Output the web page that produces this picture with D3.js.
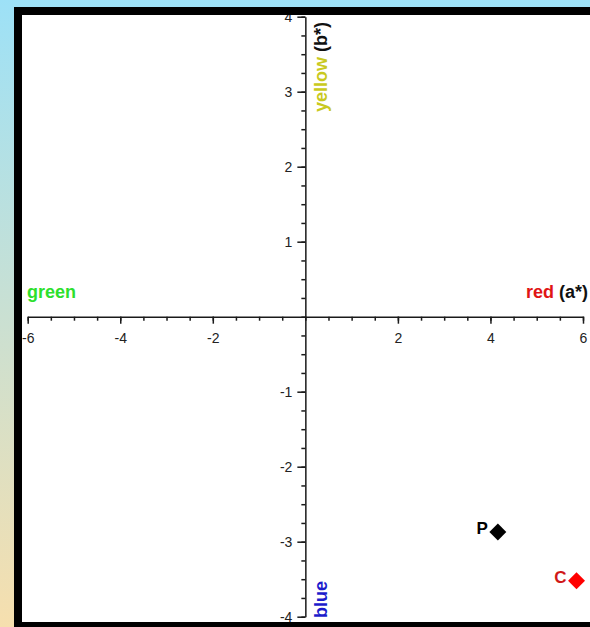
<!DOCTYPE html>
<html>
<head>
<meta charset="utf-8">
<script src="https://cdn.jsdelivr.net/npm/d3@7"></script>
<style>
html, body { margin: 0; padding: 0; overflow: hidden; background: #fff; }
svg { display: block; }
text { font-family: "Liberation Sans", Arial, sans-serif; }
.axis path, .axis line { stroke: #1a1a1a; stroke-width: 1.5; }
.axisLabel { font-size: 18px; font-weight: bold; }
.pointLabel { font-size: 17px; font-weight: bold; }
</style>
</head>
<body>
<script>
//chart values
var xTicks = [-6, -4, -2, 2, 4, 6];          //a* major ticks (0 not labelled)
var yTicks = [-4, -3, -2, -1, 1, 2, 3, 4];   //b* major ticks
var pointNames = ["P", "C"];
var aValues = [4.16, 5.86];
var bValues = [-2.87, -3.52];

//svg size
var w = 590, h = 627;

var svg = d3.select("body")
    .append("svg")
    .attr("width", w)
    .attr("height", h);

//background gradient behind the frame
var defs = svg.append("defs");

var grad = defs.append("linearGradient")
    .attr("id", "bg")
    .attr("x1", 0).attr("y1", 0)
    .attr("x2", 0).attr("y2", 1);
grad.append("stop").attr("offset", "0%").attr("stop-color", "#9de1f7");
grad.append("stop").attr("offset", "100%").attr("stop-color", "#f6dfae");

svg.append("rect")
    .attr("width", w)
    .attr("height", h)
    .style("fill", "url(#bg)");

//black frame: left, top and bottom bands (right side runs off the picture)
svg.append("rect")
    .attr("x", 14).attr("y", 7)
    .attr("width", 8).attr("height", h - 7)
    .style("fill", "#000");
svg.append("rect")
    .attr("x", 14).attr("y", 7)
    .attr("width", w - 14).attr("height", 8)
    .style("fill", "#000");
svg.append("rect")
    .attr("x", 14).attr("y", 622)
    .attr("width", w - 14).attr("height", 5)
    .style("fill", "#000");

//white plot area
svg.append("rect")
    .attr("x", 22).attr("y", 15)
    .attr("width", w - 22).attr("height", 607)
    .style("fill", "#fff");

//nested svg clips everything to the white area
var plot = svg.append("svg")
    .attr("x", 22).attr("y", 15)
    .attr("width", w - 22).attr("height", 607)
    .attr("viewBox", "22 15 " + (w - 22) + " 607")
    .style("overflow", "hidden");

//scales
var x = d3.scaleLinear()
    .domain([-6, 6])
    .range([27.7, 583]);

var y = d3.scaleLinear()
    .domain([-4, 4])
    .range([616.7, 16.7]);

var fmt = function(d){ return String(d); }; //plain hyphen minus like the original

//bigger tick text than d3's default
function styleTicks(g){
    g.attr("font-size", 14)
        .attr("font-family", "'Liberation Sans', Arial, sans-serif");
    g.selectAll("text").style("fill", "#222");
}

//minor ticks on a* (every 0.5)
plot.append("g")
    .attr("class", "axis minor")
    .attr("transform", "translate(0," + y(0) + ")")
    .call(d3.axisBottom(x)
        .tickValues(d3.range(-6, 6.01, 0.5))
        .tickSize(4)
        .tickFormat(""))
    .call(function(g){ g.select(".domain").remove(); });

//major a* axis
plot.append("g")
    .attr("class", "axis")
    .attr("transform", "translate(0," + y(0) + ")")
    .call(d3.axisBottom(x)
        .tickValues(xTicks)
        .tickSize(7)
        .tickSizeOuter(0)
        .tickPadding(9)
        .tickFormat(fmt))
    .call(styleTicks);

//minor ticks on b* (every 0.25)
plot.append("g")
    .attr("class", "axis minor")
    .attr("transform", "translate(" + x(0) + ",0)")
    .call(d3.axisLeft(y)
        .tickValues(d3.range(-4, 4.01, 0.25))
        .tickSize(4)
        .tickFormat(""))
    .call(function(g){ g.select(".domain").remove(); });

//major b* axis
plot.append("g")
    .attr("class", "axis")
    .attr("transform", "translate(" + x(0) + ",0)")
    .call(d3.axisLeft(y)
        .tickValues(yTicks)
        .tickSize(8)
        .tickSizeOuter(0)
        .tickPadding(5)
        .tickFormat(fmt))
    .call(styleTicks);

//axis direction labels
plot.append("text")
    .attr("class", "axisLabel")
    .attr("x", 27).attr("y", 298)
    .style("fill", "#2ddf2d")
    .text("green");

var redLabel = plot.append("text")
    .attr("class", "axisLabel")
    .attr("x", 588).attr("y", 298)
    .attr("text-anchor", "end");
redLabel.append("tspan").style("fill", "#e01515").text("red ");
redLabel.append("tspan").style("fill", "#111").text("(a*)");

var yellowLabel = plot.append("text")
    .attr("class", "axisLabel")
    .attr("transform", "translate(327,112) rotate(-90)");
yellowLabel.append("tspan").style("fill", "#c9c920").text("yellow ");
yellowLabel.append("tspan").style("fill", "#111").text("(b*)");

plot.append("text")
    .attr("class", "axisLabel")
    .attr("transform", "translate(327,618) rotate(-90)")
    .style("fill", "#1c1ccc")
    .text("blue");

//colour per point
var markColor = d3.scaleOrdinal().domain(pointNames).range(["#000000", "#ff0000"]);
var labelColor = d3.scaleOrdinal().domain(pointNames).range(["#000000", "#d01818"]);

var pts = pointNames.map(function(n, i){
    return { name: n, a: aValues[i], b: bValues[i] };
});

//diamonds (rotated squares)
plot.selectAll(".marks")
    .data(pts)
    .enter()
    .append("path")
    .attr("class", "marks")
    .attr("d", d3.symbol().type(d3.symbolSquare).size(144))
    .attr("transform", function(d){
        return "translate(" + x(d.a) + "," + y(d.b) + ") rotate(45)";
    })
    .style("fill", function(d){ return markColor(d.name); });

plot.selectAll(".pointLabel")
    .data(pts)
    .enter()
    .append("text")
    .attr("class", "pointLabel")
    .attr("text-anchor", "end")
    .attr("x", function(d){ return x(d.a) - 10; })
    .attr("y", function(d){ return y(d.b) + 2; })
    .style("fill", function(d){ return labelColor(d.name); })
    .text(function(d){ return d.name; });
</script>
</body>
</html>
